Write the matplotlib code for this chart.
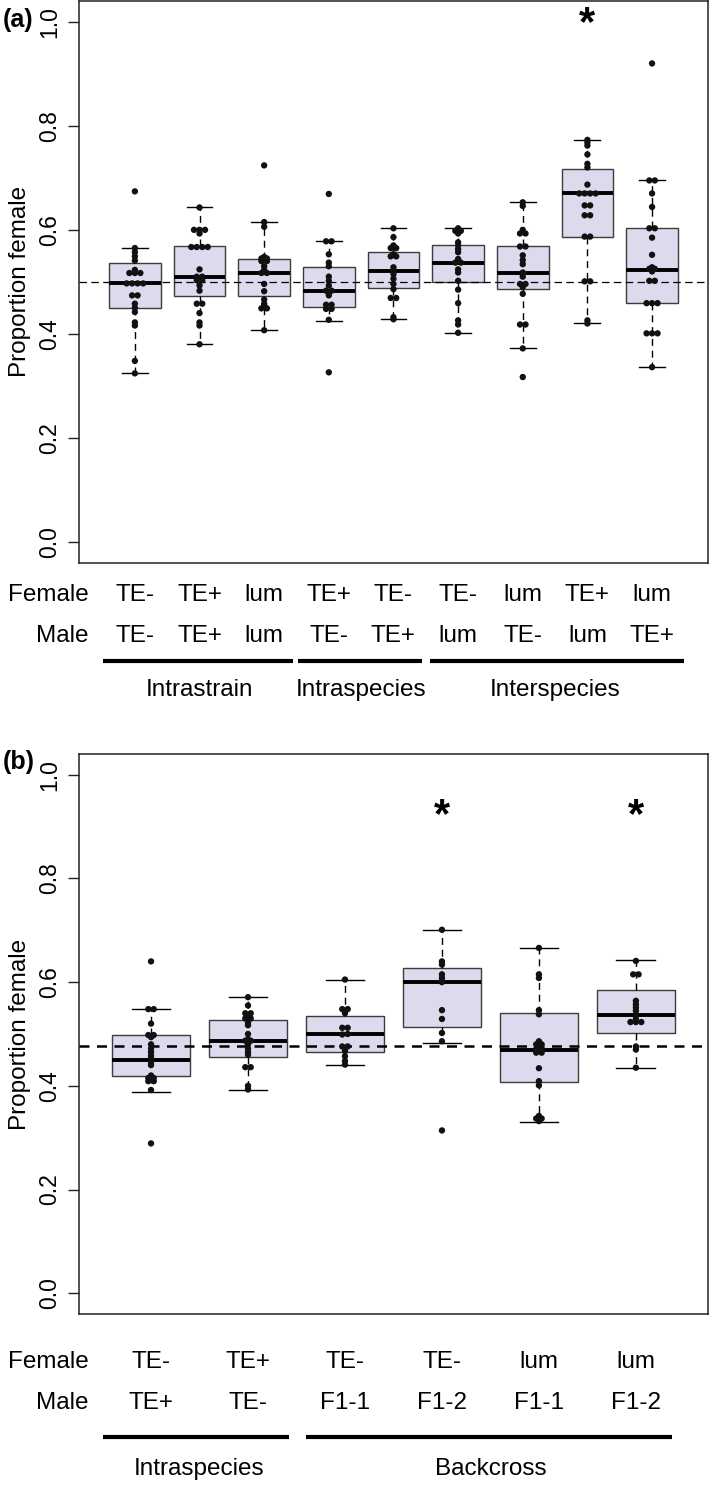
import numpy as np
import matplotlib
matplotlib.use("Agg")
import matplotlib.pyplot as plt
from matplotlib.transforms import blended_transform_factory

plt.rcParams['font.family'] = ['Liberation Sans', 'DejaVu Sans']

# ---- panel (a) ----
a_female = ["TE-", "TE+", "lum", "TE+", "TE-", "TE-", "lum", "TE+", "lum"]
a_male = ["TE-", "TE+", "lum", "TE-", "TE+", "lum", "TE-", "lum", "TE+"]
a_groups = ["Intrastrain", "Intraspecies", "Interspecies"]
a_group_sizes = [3, 2, 4]
a_whislo = [0.324, 0.380, 0.407, 0.424, 0.428, 0.402, 0.372, 0.420, 0.336]
a_q1 = [0.449, 0.472, 0.472, 0.452, 0.488, 0.499, 0.487, 0.587, 0.459]
a_med = [0.497, 0.510, 0.517, 0.483, 0.520, 0.537, 0.517, 0.670, 0.523]
a_q3 = [0.537, 0.568, 0.544, 0.529, 0.558, 0.570, 0.568, 0.717, 0.603]
a_whishi = [0.565, 0.643, 0.615, 0.579, 0.603, 0.603, 0.653, 0.773, 0.695]
a_points = [
    [0.674, 0.565, 0.557, 0.549, 0.541, 0.523, 0.517, 0.517, 0.517, 0.497, 0.497,
     0.497, 0.497, 0.474, 0.474, 0.458, 0.450, 0.442, 0.422, 0.416, 0.348, 0.324],
    [0.643, 0.600, 0.600, 0.600, 0.593, 0.567, 0.567, 0.567, 0.567, 0.524, 0.510,
     0.510, 0.503, 0.503, 0.493, 0.483, 0.458, 0.458, 0.440, 0.422, 0.416, 0.380],
    [0.724, 0.615, 0.606, 0.548, 0.545, 0.545, 0.540, 0.540, 0.530, 0.523, 0.517,
     0.517, 0.496, 0.482, 0.466, 0.458, 0.455, 0.449, 0.449, 0.407],
    [0.669, 0.578, 0.578, 0.553, 0.537, 0.530, 0.510, 0.502, 0.493, 0.483, 0.483,
     0.479, 0.474, 0.456, 0.456, 0.448, 0.448, 0.427, 0.326],
    [0.603, 0.586, 0.570, 0.565, 0.565, 0.553, 0.549, 0.549, 0.528, 0.522, 0.520,
     0.515, 0.506, 0.496, 0.486, 0.469, 0.469, 0.432, 0.428],
    [0.603, 0.598, 0.598, 0.593, 0.576, 0.570, 0.563, 0.557, 0.544, 0.537, 0.537,
     0.524, 0.518, 0.502, 0.485, 0.459, 0.426, 0.418, 0.402],
    [0.653, 0.646, 0.600, 0.593, 0.593, 0.568, 0.568, 0.551, 0.542, 0.534, 0.518,
     0.510, 0.496, 0.496, 0.493, 0.490, 0.477, 0.418, 0.418, 0.372, 0.317],
    [0.773, 0.768, 0.762, 0.745, 0.727, 0.720, 0.687, 0.670, 0.670, 0.670, 0.670,
     0.647, 0.647, 0.628, 0.628, 0.587, 0.587, 0.501, 0.501, 0.426, 0.420],
    [0.920, 0.695, 0.695, 0.670, 0.644, 0.603, 0.603, 0.585, 0.552, 0.528, 0.525,
     0.525, 0.520, 0.502, 0.502, 0.459, 0.459, 0.459, 0.401, 0.401, 0.401, 0.336],
]
a_ref = 0.5
a_sig = [8]
a_sig_y = 0.995

# ---- panel (b) ----
b_female = ["TE-", "TE+", "TE-", "TE-", "lum", "lum"]
b_male = ["TE+", "TE-", "F1-1", "F1-2", "F1-1", "F1-2"]
b_groups = ["Intraspecies", "Backcross"]
b_group_sizes = [2, 4]
b_whislo = [0.388, 0.392, 0.441, 0.483, 0.330, 0.435]
b_q1 = [0.419, 0.455, 0.466, 0.513, 0.407, 0.502]
b_med = [0.450, 0.487, 0.500, 0.600, 0.470, 0.537]
b_q3 = [0.498, 0.527, 0.534, 0.627, 0.540, 0.584]
b_whishi = [0.548, 0.572, 0.605, 0.701, 0.666, 0.642]
b_points = [
    [0.640, 0.548, 0.548, 0.520, 0.498, 0.498, 0.494, 0.480, 0.472, 0.465, 0.458,
     0.452, 0.450, 0.445, 0.440, 0.420, 0.415, 0.415, 0.409, 0.409, 0.392, 0.289],
    [0.571, 0.555, 0.540, 0.540, 0.535, 0.530, 0.530, 0.522, 0.517, 0.500, 0.490,
     0.487, 0.487, 0.480, 0.472, 0.465, 0.460, 0.436, 0.436, 0.400, 0.393],
    [0.605, 0.548, 0.548, 0.540, 0.512, 0.512, 0.500, 0.499, 0.476, 0.476, 0.467,
     0.457, 0.448, 0.441],
    [0.701, 0.640, 0.634, 0.615, 0.608, 0.602, 0.600, 0.546, 0.529, 0.502, 0.486, 0.314],
    [0.666, 0.615, 0.608, 0.546, 0.538, 0.486, 0.480, 0.480, 0.471, 0.471, 0.464,
     0.464, 0.434, 0.409, 0.401, 0.342, 0.337, 0.337, 0.332],
    [0.641, 0.615, 0.615, 0.564, 0.557, 0.551, 0.545, 0.538, 0.529, 0.523, 0.523,
     0.523, 0.476, 0.470, 0.435],
]
b_ref = 0.476
b_sig = [4, 6]
b_sig_y = 0.92

BOX_FACE = "#dcdbee"
BOX_EDGE = "#3c3c3c"


def swarm_x(vals, pos, d):
    vals = np.asarray(vals)
    xs = np.full(len(vals), float(pos))
    order = np.argsort(vals)
    groups = []
    for i in order:
        if groups and abs(vals[i] - vals[groups[-1][-1]]) < 0.0015:
            groups[-1].append(i)
        else:
            groups.append([i])
    for g in groups:
        n = len(g)
        for k, i in enumerate(g):
            xs[i] = pos + (k - (n - 1) / 2) * d
    return xs


def draw_panel(ax, points, lo, q1, med, q3, hi, ref, ref_lw, ref_dash, dot_d):
    n = len(points)
    pos = np.arange(1, n + 1)
    stats = [dict(med=med[i], q1=q1[i], q3=q3[i], whislo=lo[i], whishi=hi[i], fliers=[])
             for i in range(n)]
    ax.bxp(stats, positions=pos, widths=0.8, patch_artist=True, showfliers=False,
           capwidths=0.4,
           boxprops=dict(facecolor=BOX_FACE, edgecolor=BOX_EDGE, linewidth=1.0),
           medianprops=dict(color="black", linewidth=2.8, solid_capstyle="butt"),
           whiskerprops=dict(color="black", linewidth=1.0, linestyle=(0, (5, 3.5))),
           capprops=dict(color="black", linewidth=1.0))
    ax.axhline(ref, color="black", linewidth=ref_lw, linestyle=(0, ref_dash), zorder=3)
    for i, vals in enumerate(points):
        xs = swarm_x(vals, pos[i], dot_d)
        ax.scatter(xs, vals, s=21, color="#111111", edgecolors="none", zorder=4)
    ax.set_ylim(-0.04, 1.04)
    ax.set_xlim(0.5 - 0.04 * n, n + 0.5 + 0.04 * n)
    ax.set_xticks([])
    ax.set_yticks(np.arange(0, 1.01, 0.2))
    ax.set_yticklabels([f"{v:.1f}" for v in np.arange(0, 1.01, 0.2)],
                       rotation=90, va="center", fontsize=16.5)
    ax.tick_params(axis="y", length=8, width=1.0, pad=5, color="#222222")
    for s in ax.spines.values():
        s.set_linewidth(1.1)
        s.set_color("#222222")
    ax.set_ylabel("Proportion female", fontsize=17.5, labelpad=5)


def draw_labels(fig, ax, female, male, groups, sizes, spans, y_f, y_m, y_line, y_grp):
    tr = blended_transform_factory(ax.transData, fig.transFigure)
    pos = np.arange(1, len(female) + 1)
    fig.text(0.1255, y_f, "Female", ha="right", va="center", fontsize=17.5)
    fig.text(0.1255, y_m, "Male", ha="right", va="center", fontsize=17.5)
    for i in range(len(female)):
        ax.text(pos[i], y_f, female[i], transform=tr, ha="center", va="center",
                fontsize=17.5, clip_on=False)
        ax.text(pos[i], y_m, male[i], transform=tr, ha="center", va="center",
                fontsize=17.5, clip_on=False)
    start = 1
    for g, sz, (x0, x1) in zip(groups, sizes, spans):
        ax.plot([x0, x1], [y_line, y_line], transform=tr, color="black",
                linewidth=3.0, solid_capstyle="butt", clip_on=False)
        ax.text(start + (sz - 1) / 2, y_grp, g, transform=tr, ha="center",
                va="center", fontsize=17.5, clip_on=False)
        start += sz


fig = plt.figure(figsize=(7.09, 14.85), dpi=100)
ax_a = fig.add_axes([0.1118, 0.6211, 0.8863, 0.3782])
ax_b = fig.add_axes([0.1118, 0.11515, 0.8863, 0.37711])

draw_panel(ax_a, a_points, a_whislo, a_q1, a_med, a_q3, a_whishi, a_ref, 0.9, (6, 3.5), 0.085)
draw_panel(ax_b, b_points, b_whislo, b_q1, b_med, b_q3, b_whishi, b_ref, 1.8, (4, 3), 0.056)

for p in a_sig:
    ax_a.text(p, a_sig_y, "*", ha="center", va="center", fontsize=30, fontweight="bold")
for p in b_sig:
    ax_b.text(p, b_sig_y, "*", ha="center", va="center", fontsize=30, fontweight="bold")

draw_labels(fig, ax_a, a_female, a_male, a_groups, a_group_sizes,
            [(0.5, 3.44), (3.52, 5.44), (5.56, 9.49)],
            0.5993, 0.5717, 0.5551, 0.5354)
draw_labels(fig, ax_b, b_female, b_male, b_groups, b_group_sizes,
            [(0.5, 2.42), (2.6, 6.37)],
            0.0830, 0.0552, 0.0325, 0.0108)

fig.text(0.004, 0.9865, "(a)", ha="left", va="center", fontsize=18, fontweight="bold")
fig.text(0.004, 0.4871, "(b)", ha="left", va="center", fontsize=18, fontweight="bold")

fig.savefig("out.png", dpi=100)
